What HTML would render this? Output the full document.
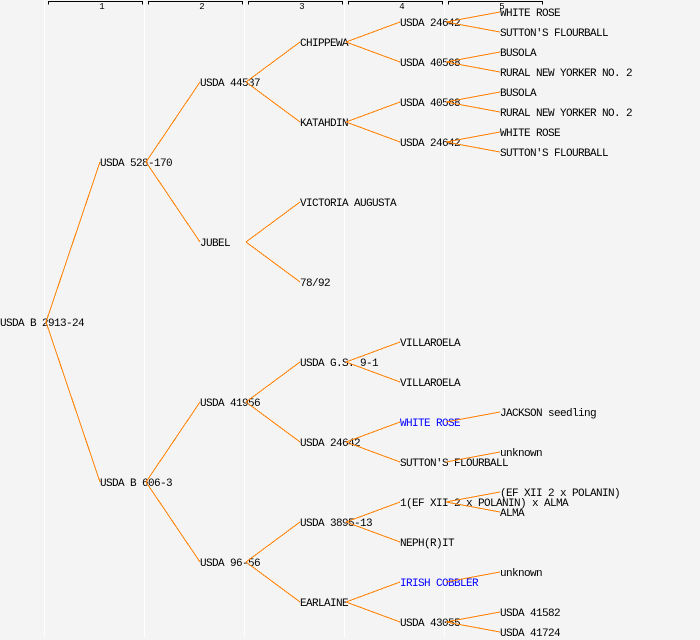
<!DOCTYPE html>
<html>
<head>
<meta charset="utf-8">
<style>
  html, body { margin: 0; padding: 0; background: #f4f4f4; }
  svg { display: block; }
  .t { font-family: "Liberation Mono", "DejaVu Sans Mono", monospace; font-size: 11px; letter-spacing: -0.6px; fill: #000; }
  .b { fill: #0000ff; }
  .h { font-family: "Liberation Mono", monospace; font-size: 9px; fill: #000; }
  .ln line { stroke: #ff8000; stroke-width: 1; }
</style>
</head>
<body>
<svg width="700" height="640" viewBox="0 0 700 640" xmlns="http://www.w3.org/2000/svg">
  <rect x="0" y="0" width="700" height="640" fill="#f4f4f4"/>
  <!-- column rules -->
  <g fill="#ffffff">
    <rect x="44" y="0" width="1" height="637"/>
    <rect x="144" y="0" width="1" height="637"/>
    <rect x="244" y="0" width="1" height="637"/>
    <rect x="344" y="0" width="1" height="637"/>
    <rect x="444" y="0" width="1" height="637"/>
  </g>
  <!-- header brackets -->
  <g fill="none" stroke="#000" stroke-width="1" shape-rendering="crispEdges">
    <path d="M48.5 4.5 V1.5 H142.5 V4.5"/>
    <path d="M148.5 4.5 V1.5 H242.5 V4.5"/>
    <path d="M248.5 4.5 V1.5 H342.5 V4.5"/>
    <path d="M348.5 4.5 V1.5 H442.5 V4.5"/>
    <path d="M448.5 4.5 V1.5 H542.5 V4.5"/>
  </g>
  <g class="h" text-anchor="middle">
    <text x="102" y="9">1</text>
    <text x="202" y="9">2</text>
    <text x="302" y="9">3</text>
    <text x="402" y="9">4</text>
    <text x="502" y="9">5</text>
  </g>

  <!-- labels -->
  <g class="t">
    <text x="0" y="326">USDA B 2913-24</text>

    <text x="100" y="166">USDA 528-170</text>
    <text x="100" y="486">USDA B 606-3</text>

    <text x="200" y="86">USDA 44537</text>
    <text x="200" y="246">JUBEL</text>
    <text x="200" y="406">USDA 41956</text>
    <text x="200" y="566">USDA 96-56</text>

    <text x="300" y="46">CHIPPEWA</text>
    <text x="300" y="126">KATAHDIN</text>
    <text x="300" y="206">VICTORIA AUGUSTA</text>
    <text x="300" y="286">78/92</text>
    <text x="300" y="366">USDA G.S. 9-1</text>
    <text x="300" y="446">USDA 24642</text>
    <text x="300" y="526">USDA 3895-13</text>
    <text x="300" y="606">EARLAINE</text>

    <text x="400" y="26">USDA 24642</text>
    <text x="400" y="66">USDA 40568</text>
    <text x="400" y="106">USDA 40568</text>
    <text x="400" y="146">USDA 24642</text>
    <text x="400" y="346">VILLAROELA</text>
    <text x="400" y="386">VILLAROELA</text>
    <text x="400" y="426" class="t b">WHITE ROSE</text>
    <text x="400" y="466">SUTTON'S FLOURBALL</text>
    <text x="400" y="506">1(EF XII 2 x POLANIN) x ALMA</text>
    <text x="400" y="546">NEPH(R)IT</text>
    <text x="400" y="586" class="t b">IRISH COBBLER</text>
    <text x="400" y="626">USDA 43055</text>

    <text x="500" y="16">WHITE ROSE</text>
    <text x="500" y="36">SUTTON'S FLOURBALL</text>
    <text x="500" y="56">BUSOLA</text>
    <text x="500" y="76">RURAL NEW YORKER NO. 2</text>
    <text x="500" y="96">BUSOLA</text>
    <text x="500" y="116">RURAL NEW YORKER NO. 2</text>
    <text x="500" y="136">WHITE ROSE</text>
    <text x="500" y="156">SUTTON'S FLOURBALL</text>
    <text x="500" y="416">JACKSON seedling</text>
    <text x="500" y="456">unknown</text>
    <text x="500" y="496">(EF XII 2 x POLANIN)</text>
    <text x="500" y="516">ALMA</text>
    <text x="500" y="576">unknown</text>
    <text x="500" y="616">USDA 41582</text>
    <text x="500" y="636">USDA 41724</text>
  </g>

  <!-- connectors -->
  <g class="ln" shape-rendering="crispEdges">
    <line x1="46" y1="322" x2="100" y2="162"/>
    <line x1="46" y1="322" x2="100" y2="482"/>

    <line x1="146" y1="162" x2="200" y2="82"/>
    <line x1="146" y1="162" x2="200" y2="242"/>
    <line x1="146" y1="482" x2="200" y2="402"/>
    <line x1="146" y1="482" x2="200" y2="562"/>

    <line x1="246" y1="82" x2="300" y2="42"/>
    <line x1="246" y1="82" x2="300" y2="122"/>
    <line x1="246" y1="242" x2="300" y2="202"/>
    <line x1="246" y1="242" x2="300" y2="282"/>
    <line x1="246" y1="402" x2="300" y2="362"/>
    <line x1="246" y1="402" x2="300" y2="442"/>
    <line x1="246" y1="562" x2="300" y2="522"/>
    <line x1="246" y1="562" x2="300" y2="602"/>

    <line x1="346" y1="42" x2="400" y2="22"/>
    <line x1="346" y1="42" x2="400" y2="62"/>
    <line x1="346" y1="122" x2="400" y2="102"/>
    <line x1="346" y1="122" x2="400" y2="142"/>
    <line x1="346" y1="362" x2="400" y2="342"/>
    <line x1="346" y1="362" x2="400" y2="382"/>
    <line x1="346" y1="442" x2="400" y2="422"/>
    <line x1="346" y1="442" x2="400" y2="462"/>
    <line x1="346" y1="522" x2="400" y2="502"/>
    <line x1="346" y1="522" x2="400" y2="542"/>
    <line x1="346" y1="602" x2="400" y2="582"/>
    <line x1="346" y1="602" x2="400" y2="622"/>

    <line x1="446" y1="22" x2="500" y2="12"/>
    <line x1="446" y1="22" x2="500" y2="32"/>
    <line x1="446" y1="62" x2="500" y2="52"/>
    <line x1="446" y1="62" x2="500" y2="72"/>
    <line x1="446" y1="102" x2="500" y2="92"/>
    <line x1="446" y1="102" x2="500" y2="112"/>
    <line x1="446" y1="142" x2="500" y2="132"/>
    <line x1="446" y1="142" x2="500" y2="152"/>
    <line x1="446" y1="422" x2="500" y2="412"/>
    <line x1="446" y1="462" x2="500" y2="452"/>
    <line x1="446" y1="502" x2="500" y2="492"/>
    <line x1="446" y1="502" x2="500" y2="512"/>
    <line x1="446" y1="582" x2="500" y2="572"/>
    <line x1="446" y1="622" x2="500" y2="612"/>
    <line x1="446" y1="622" x2="500" y2="632"/>
  </g>
</svg>
</body>
</html>
